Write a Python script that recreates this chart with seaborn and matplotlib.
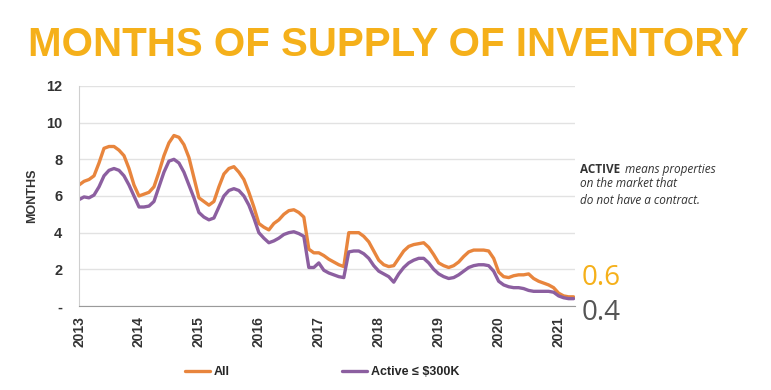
import numpy as np
import pandas as pd
import matplotlib.pyplot as plt
import seaborn as sns
from matplotlib.ticker import FixedLocator, MultipleLocator, FuncFormatter

# Monthly values, Jan 2013 - Apr 2021
all_supply = [
    6.6, 6.8, 6.9, 7.1, 7.8, 8.6, 8.7, 8.7, 8.5, 8.2, 7.5, 6.6,
    6.0, 6.1, 6.2, 6.5, 7.3, 8.2, 8.9, 9.3, 9.2, 8.8, 8.1, 7.0,
    5.9, 5.7, 5.5, 5.7, 6.5, 7.2, 7.5, 7.6, 7.3, 6.9, 6.2, 5.4,
    4.5, 4.3, 4.15, 4.5, 4.7, 5.0, 5.2, 5.25, 5.1, 4.85, 3.1, 2.9,
    2.9, 2.75, 2.55, 2.4, 2.25, 2.15, 4.0, 4.0, 4.0, 3.8, 3.5, 3.0,
    2.5, 2.25, 2.15, 2.2, 2.6, 3.0, 3.25, 3.35, 3.4, 3.45, 3.2, 2.8,
    2.35, 2.2, 2.1, 2.2, 2.4, 2.7, 2.95, 3.05, 3.05, 3.05, 3.0, 2.6,
    1.85, 1.6, 1.55, 1.65, 1.7, 1.7, 1.75, 1.5, 1.35, 1.25, 1.15, 1.0,
    0.7, 0.55, 0.5, 0.5,
]
active_300k = [
    5.8, 5.95, 5.9, 6.05, 6.5, 7.1, 7.4, 7.5, 7.4, 7.1, 6.6, 6.0,
    5.4, 5.4, 5.45, 5.7, 6.5, 7.3, 7.9, 8.0, 7.8, 7.3, 6.6, 5.9,
    5.1, 4.85, 4.7, 4.8, 5.4, 6.0, 6.3, 6.4, 6.3, 6.0, 5.5, 4.8,
    4.0, 3.7, 3.45, 3.55, 3.7, 3.9, 4.0, 4.05, 3.95, 3.8, 2.1, 2.1,
    2.35, 1.95, 1.8, 1.7, 1.6, 1.55, 2.95, 3.0, 3.0, 2.85, 2.6, 2.2,
    1.9, 1.75, 1.6, 1.3, 1.75, 2.1, 2.35, 2.5, 2.6, 2.6, 2.35, 2.0,
    1.75, 1.6, 1.5, 1.55, 1.7, 1.9, 2.1, 2.2, 2.25, 2.25, 2.2, 1.9,
    1.35, 1.15, 1.05, 1.0, 1.0, 0.95, 0.85, 0.8, 0.8, 0.8, 0.8, 0.75,
    0.55, 0.45, 0.4, 0.4,
]
years = list(range(2013, 2022))
latest_all = "0.6"
latest_active = "0.4"

df = pd.DataFrame({
    "date": 2013 + np.arange(len(all_supply)) / 12,
    "All": all_supply,
    "Active \u2264 $300K": active_300k,
})

sns.set_style("white")
plt.rcParams["font.family"] = ["Liberation Sans", "DejaVu Sans"]

fig = plt.figure(figsize=(7.71, 3.9), dpi=100)
ax = fig.add_axes([0.1025, 0.2154, 0.643, 0.5641])

sns.lineplot(data=df, x="date", y="All", ax=ax, color="#E8853D", lw=2.4, label="All")
sns.lineplot(data=df, x="date", y="Active \u2264 $300K", ax=ax, color="#8C5FA0", lw=2.4,
             label="Active \u2264 $300K")

ax.set_xlim(2013, 2021.27)
ax.set_ylim(0, 12)
ax.xaxis.set_major_locator(FixedLocator(years))
ax.xaxis.set_major_formatter(FuncFormatter(lambda v, p: str(int(round(v)))))
ax.yaxis.set_major_locator(MultipleLocator(2))
ax.yaxis.set_minor_locator(MultipleLocator(0.5))
ax.yaxis.set_major_formatter(FuncFormatter(lambda v, p: "-" if v == 0 else f"{v:.0f}"))
ax.grid(axis="y", color="#e2e2e2", lw=1)
ax.set_axisbelow(True)

for s in ["top", "right"]:
    ax.spines[s].set_visible(False)
ax.spines["left"].set_color("#cfcfcf")
ax.spines["bottom"].set_color("#9a9a9a")

ax.tick_params(axis="x", direction="inout", length=7, color="#777777", labelsize=10,
               labelcolor="#333333", rotation=90, pad=4)
ax.tick_params(axis="y", which="major", direction="out", length=4, color="#bbbbbb",
               labelsize=10.5, labelcolor="#333333", pad=8)
ax.tick_params(axis="y", which="minor", direction="out", length=3, color="#bbbbbb")
for lab in ax.get_xticklabels() + ax.get_yticklabels():
    lab.set_fontweight("bold")

ax.set_xlabel("")
ax.set_ylabel("MONTHS", fontsize=9, fontweight="bold", color="#333333", labelpad=6)

ax.legend_.remove()
fig.legend(loc="center left", bbox_to_anchor=(0.225, 0.046), ncol=2, frameon=False,
           handlelength=2.0, handletextpad=0.3, columnspacing=9,
           prop={"weight": "bold", "size": 9})

fig.text(0.503, 0.885, "MONTHS OF SUPPLY OF INVENTORY", ha="center", va="center",
         fontsize=29, fontweight="bold", color="#F5B01A",
         family=["Liberation Sans", "DejaVu Sans"])

fig.text(0.752, 0.556, "ACTIVE", fontsize=8.5, fontweight="bold", color="#333333",
         family=["Open Sans", "DejaVu Sans"])
fig.text(0.810, 0.556, "means properties", fontsize=8.5, style="italic", color="#333333",
         family=["Open Sans", "DejaVu Sans"])
fig.text(0.752, 0.520, "on the market that", fontsize=8.5, style="italic", color="#333333",
         family=["Open Sans", "DejaVu Sans"])
fig.text(0.752, 0.477, "do not have a contract.", fontsize=8.5, style="italic", color="#333333",
         family=["Open Sans", "DejaVu Sans"])

fig.text(0.755, 0.287, latest_all, fontsize=20, color="#F5B01A", va="center",
         family=["Open Sans", "DejaVu Sans"])
fig.text(0.755, 0.197, latest_active, fontsize=20, color="#555555", va="center",
         family=["Open Sans", "DejaVu Sans"])

fig.savefig("out.png", dpi=100)
